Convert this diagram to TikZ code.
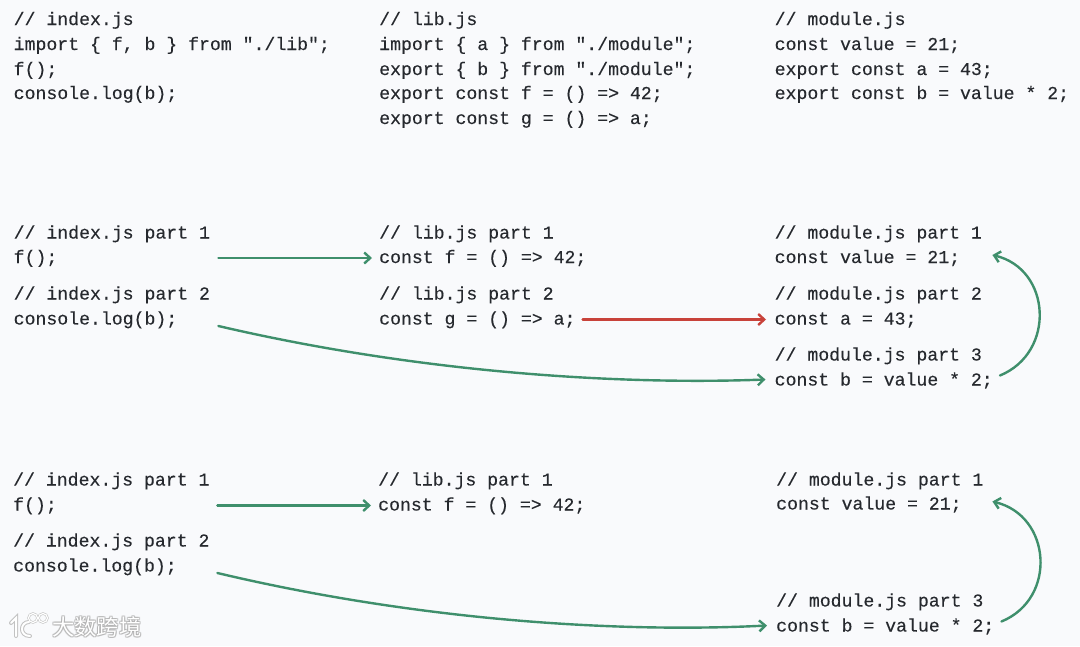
\documentclass[tikz,border=0pt]{standalone}
\usepackage{fontspec}
\newfontfamily\codefont[FakeBold=0.22]{Liberation Mono}
\newfontfamily\cjkfont{Noto Sans CJK SC}
\usetikzlibrary{arrows.meta}
\definecolor{bgc}{HTML}{F9FAFC}
\definecolor{ink}{HTML}{26292E}
\definecolor{grn}{HTML}{3F8F6C}
\definecolor{rd}{HTML}{C8423A}
\newcommand{\boxw}[2]{\makebox[#1][l]{#2}}
\tikzset{
  code/.style={anchor=base west,inner xsep=7pt,inner ysep=0pt,text height=13pt,text depth=3pt,text=ink,font=\codefont\fontsize{18.17}{20}\selectfont},
  link/.style={line width=2.4pt,line cap=round,-{Straight Barb[length=6pt,width=11pt,line width=2.4pt]}},
  glink/.style={link,draw=grn},
  rlink/.style={link,draw=rd},
  wm/.style={font=\cjkfont\fontsize{22.3}{24}\selectfont,anchor=base west,inner sep=0pt}
}
\newcommand{\wmhalo}[1]{%
  \foreach \dx/\dy in {-1/0,1/0,0/-1,0/1,-1/-1,1/1,-1/1,1/-1}{%
    \node[wm,text=black!32,opacity=.5] at (52+\dx,635+\dy) {大数跨境};
  }
  \node[wm,text=white] (#1) at (52,635) {大数跨境};
}
\begin{document}
\begin{tikzpicture}[x=1pt,y=-1pt]
\useasboundingbox (0,0) rectangle (1080,646);
\fill[bgc] (0,0) rectangle (1080,646);
% top row
\foreach \nm/\yy/\txt in {ta/25/{// index.js},tb/50/{import \{ f, b \} from "./lib";},tc/75/{f();},td/99/{console.log(b);}}
  \node[code] (\nm) at (6.5,\yy) {\txt};
\foreach \nm/\yy/\txt in {ua/25/{// lib.js},ub/50/{import \{ a \} from "./module";},uc/75/{export \{ b \} from "./module";},ud/99/{export const f = () => 42;},ue/124/{export const g = () => a;}}
  \node[code] (\nm) at (372,\yy) {\txt};
\foreach \nm/\yy/\txt in {va/25/{// module.js},vb/50/{const value = 21;},vc/75/{export const a = 43;},vd/99/{export const b = value * 2;}}
  \node[code] (\nm) at (767.5,\yy) {\txt};
% middle row
\node[code] (m1) at (6.5,238.5) {// index.js part 1};
\node[code] (m2) at (6.5,263) {\boxw{197.5pt}{f();}};
\node[code] (m3) at (6.5,299.5) {// index.js part 2};
\node[code] (m4) at (6.5,324.5) {\boxw{197.5pt}{console.log(b);}};
\node[code] (m5) at (372,238.5) {// lib.js part 1};
\node[code] (m6) at (372,263) {const f = () => 42;};
\node[code] (m7) at (372,299.5) {// lib.js part 2};
\node[code] (m8) at (372,324.5) {const g = () => a;};
\node[code] (m9) at (767.5,238.5) {// module.js part 1};
\node[code] (m10) at (767.5,263) {\boxw{210.5pt}{const value = 21;}};
\node[code] (m11) at (767.5,299.5) {// module.js part 2};
\node[code] (m12) at (767.5,324.5) {const a = 43;};
\node[code] (m13) at (767.5,360.5) {// module.js part 3};
\node[code] (m14) at (767.5,385.5) {const b = value * 2;};
\draw[glink] (m2.east) -- (m6.west);
\draw[rlink] (m8.east) -- ([xshift=-1.5pt]m12.west);
\draw[glink] ([yshift=-6.5pt]m4.east) .. controls (420,373) and (620,385) .. ([xshift=-2pt,yshift=1pt]m14.west);
\draw[glink] ([yshift=5pt]m14.east) .. controls +(56,-23) and +(59,14) .. ([yshift=3pt]m10.east);
% bottom row
\node[code] (b1) at (6,485.5) {// index.js part 1};
\node[code] (b2) at (6,510.5) {\boxw{197pt}{f();}};
\node[code] (b3) at (6,546.5) {// index.js part 2};
\node[code] (b4) at (6,571.5) {\boxw{197pt}{console.log(b);}};
\node[code] (b5) at (371,485.5) {// lib.js part 1};
\node[code] (b6) at (371,510.5) {const f = () => 42;};
\node[code] (b9) at (769,485.5) {// module.js part 1};
\node[code] (b10) at (769,509.5) {\boxw{209pt}{const value = 21;}};
\node[code] (b13) at (769,606.5) {// module.js part 3};
\node[code] (b14) at (769,631.5) {const b = value * 2;};
\draw[glink] (b2.east) -- (b6.west);
\draw[glink] ([yshift=-6.5pt]b4.east) .. controls (420,621) and (620,633) .. ([xshift=-2pt,yshift=1pt]b14.west);
\draw[glink] ([yshift=5pt]b14.east) .. controls +(56,-23) and +(59,14) .. ([yshift=3pt]b10.east);
% watermark
\foreach \w/\c in {4/black!24,2/white}{
  \draw[line width=\w pt,line cap=round,\c] (11,623) -- (16,618) -- (16,636) (29,622) .. controls (20,622) and (19,636) .. (30,636);
  \draw[line width=\w pt*.6,\c] (33,618) circle (4.5) (43,618) circle (4.5);
}
\wmhalo{wmk}
\end{tikzpicture}
\end{document}
